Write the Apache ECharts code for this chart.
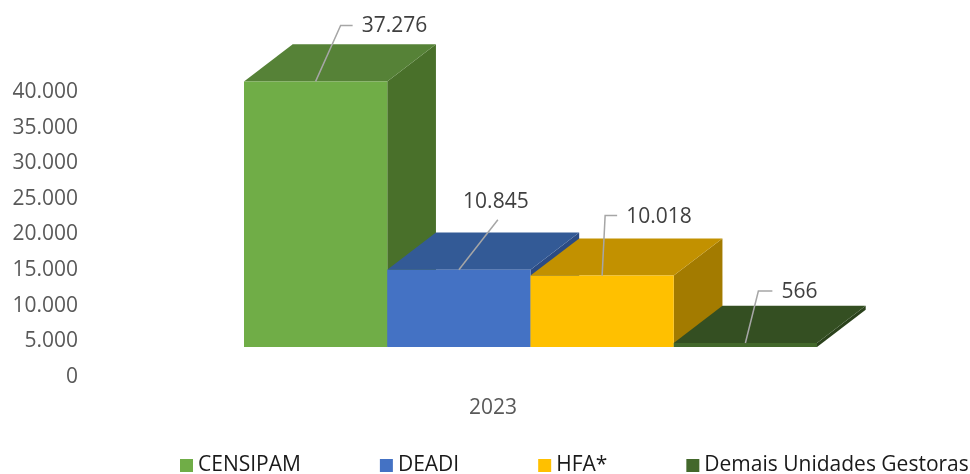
<!DOCTYPE html>
<html>
<head>
<meta charset="utf-8">
<script src="https://cdn.jsdelivr.net/npm/echarts@6/dist/echarts.min.js"></script>
<style>
  html, body { margin: 0; padding: 0; background: #fff; }
  #chart { width: 970px; height: 474px; }
</style>
</head>
<body>
<div id="chart"></div>
<script>
// dados
const categories = ["2023"];
const seriesNames = ["CENSIPAM", "DEADI", "HFA*", "Demais Unidades Gestoras"];
const seriesValues = [37276, 10845, 10018, 566];
const yTicks = [0, 5000, 10000, 15000, 20000, 25000, 30000, 35000, 40000];

// cores: frente, topo, lateral
const faceColors = [
  ["#70AD47", "#568237", "#49702A"],
  ["#4472C4", "#335A96", "#2B4B83"],
  ["#FFC000", "#C29100", "#A37B00"],
  ["#43682B", "#344F22", "#2B421C"],
];

// posição da linha de chamada (fim da linha relativo ao topo da frente) e cotovelo
const leaderOffsets = [[25, -56], [39, -50], [3, -60], [13, -52]];
const leaderElbow = [12, 0, 12, 14];

function fmt(v) {
  return String(v).replace(/\B(?=(\d{3})+(?!\d))/g, ".");
}

const chart = echarts.init(document.getElementById("chart"));

function renderBox(params, api) {
  const idx = params.seriesIndex;
  const cat = api.value(0);
  const v = api.value(1);
  const p0 = api.coord([cat, 0]);
  const p1 = api.coord([cat, v]);
  const w = api.size([1, 0])[0];
  const xl = p0[0] - w / 2;
  const xr = p0[0] + w / 2;
  const yb = p0[1];
  const yt = p1[1];
  const dx = w * 0.34;
  const dy = -w * 0.26;
  const c = faceColors[idx];

  const cx = (xl + xr) / 2;
  const off = leaderOffsets[idx];
  const ex = cx + off[0];
  const ey = yt + off[1];
  const elbow = leaderElbow[idx];
  const pts = [[cx, yt], [ex, ey]];
  if (elbow) pts.push([ex + elbow, ey]);

  const label = elbow
    ? {
        type: "text",
        style: {
          x: ex + elbow + 9,
          y: ey + 1,
          text: fmt(v),
          fill: "#404040",
          font: "21px 'Open Sans'",
          textAlign: "left",
          textVerticalAlign: "middle",
        },
      }
    : {
        type: "text",
        style: {
          x: ex - 2,
          y: ey - 18,
          text: fmt(v),
          fill: "#404040",
          font: "21px 'Open Sans'",
          textAlign: "center",
          textVerticalAlign: "middle",
        },
      };

  return {
    type: "group",
    children: [
      {
        type: "polygon",
        shape: { points: [[xr, yt], [xr + dx, yt + dy], [xr + dx, yb + dy], [xr, yb]] },
        style: { fill: c[2] },
      },
      {
        type: "polygon",
        shape: { points: [[xl, yt], [xr, yt], [xr + dx, yt + dy], [xl + dx, yt + dy]] },
        style: { fill: c[1] },
      },
      {
        type: "rect",
        shape: { x: xl, y: yt, width: w, height: yb - yt },
        style: { fill: c[0] },
      },
      {
        type: "polyline",
        shape: { points: pts },
        style: { stroke: "#A6A6A6", lineWidth: 1.5, fill: null },
      },
      label,
    ],
  };
}

const option = {
  animation: false,
  textStyle: { fontFamily: "'Open Sans', sans-serif" },
  grid: [
    { left: 86, right: 70, top: 92, bottom: 97 },
    { left: 244, right: 153, top: 62, bottom: 127 },
  ],
  xAxis: [
    {
      gridIndex: 0,
      type: "category",
      data: categories,
      axisLine: { show: false },
      axisTick: { show: false },
      axisLabel: { color: "#595959", fontSize: 21, margin: 21 },
    },
    {
      gridIndex: 1,
      type: "category",
      data: seriesNames,
      show: false,
    },
  ],
  yAxis: [
    {
      gridIndex: 0,
      type: "value",
      min: yTicks[0],
      max: yTicks[yTicks.length - 1],
      interval: yTicks[1] - yTicks[0],
      axisLine: { show: false },
      axisTick: { show: false },
      splitLine: { show: false },
      axisLabel: { color: "#595959", fontSize: 21, margin: 8, formatter: fmt },
    },
    {
      gridIndex: 1,
      type: "value",
      min: yTicks[0],
      max: yTicks[yTicks.length - 1],
      show: false,
    },
  ],
  legend: {
    left: 180,
    top: 455,
    padding: 0,
    icon: "rect",
    itemWidth: 13,
    itemHeight: 13,
    itemGap: 79,
    data: seriesNames,
    textStyle: { color: "#1a1a1a", fontSize: 21 },
  },
  series: seriesNames.map((name, i) => ({
    name: name,
    type: "custom",
    xAxisIndex: 1,
    yAxisIndex: 1,
    itemStyle: { color: faceColors[i][0] },
    renderItem: renderBox,
    encode: { x: 0, y: 1 },
    data: [[name, seriesValues[i]]],
  })),
};

chart.setOption(option);
</script>
</body>
</html>
